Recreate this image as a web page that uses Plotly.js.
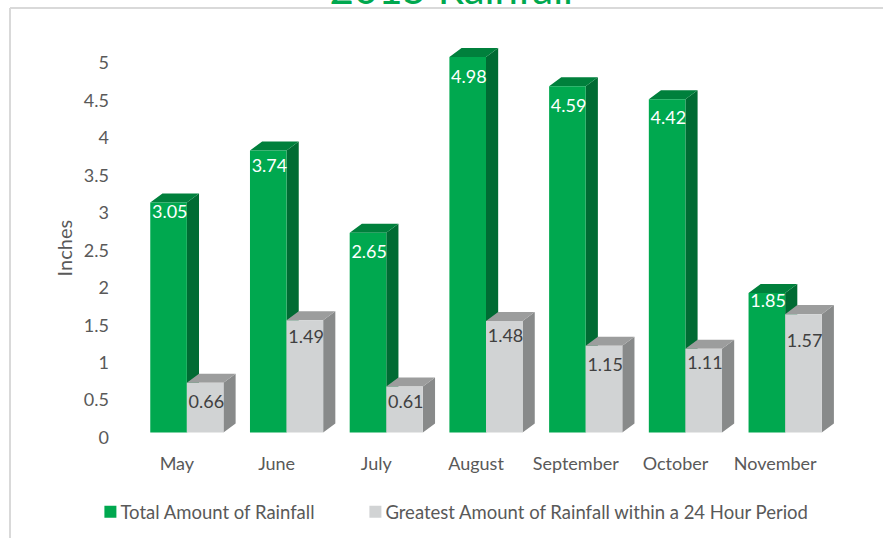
<!DOCTYPE html>
<html><head><meta charset="utf-8">
<script src="https://cdn.plot.ly/plotly-3.0.1.min.js"></script>
<style>html,body{margin:0;padding:0;background:#fff}#c{width:883px;height:538px}</style>
</head><body><div id="c"></div>
<script>
const months = ['May','June','July','August','September','October','November'];
const totalRain = [3.05,3.74,2.65,4.98,4.59,4.42,1.85];
const maxDayRain = [0.66,1.49,0.61,1.48,1.15,1.11,1.57];
const yTicks = [0,0.5,1,1.5,2,2.5,3,3.5,4,4.5,5];
const seriesNames = ['Total Amount of Rainfall','Greatest Amount of Rainfall within a 24 Hour Period'];
// label drop below bar top (in axis units), a placement choice
const totalDrop = [0.15,0.23,0.27,0.29,0.28,0.27,0.12];
const maxDrop = [0.27,0.24,0.23,0.22,0.27,0.21,0.38];

const FONT = 'Lato, "Open Sans", sans-serif';
const TXT = '#595959';
const barW = 0.367, depthX = 0.122, depthY = 0.12, labelNudge = 0.012;
const xs = months.map((_, i) => i);

function sideFace(vals, x0) {
  const px = [], py = [];
  vals.forEach((v, i) => {
    const r = i + x0 + barW;
    px.push(r, r + depthX, r + depthX, r, r, null);
    py.push(0, depthY, v + depthY, v, 0, null);
  });
  return [px, py];
}
function topFace(vals, x0) {
  const px = [], py = [];
  vals.forEach((v, i) => {
    const l = i + x0, r = l + barW;
    px.push(l, r, r + depthX, l + depthX, l, null);
    py.push(v, v, v + depthY, v + depthY, v, null);
  });
  return [px, py];
}
function poly(pts, color) {
  return {x: pts[0], y: pts[1], type: 'scatter', mode: 'lines', fill: 'toself', fillcolor: color,
    line: {width: 0, color: color}, showlegend: false, hoverinfo: 'skip', xaxis: 'x', yaxis: 'y'};
}
function bar(name, vals, color, legendId) {
  return {x: xs, y: vals, name: name, type: 'bar', marker: {color: color, line: {width: 0}},
    xaxis: 'x2', yaxis: 'y2', legend: legendId};
}
function labels(vals, drop, x0, color) {
  return {x: xs.map(i => i + x0), y: vals.map((v, i) => v - drop[i]), text: vals.map(v => v.toFixed(2)),
    type: 'scatter', mode: 'text', textposition: 'middle center',
    textfont: {family: FONT, size: 18, color: color}, showlegend: false, hoverinfo: 'skip',
    xaxis: 'x2', yaxis: 'y2'};
}
const data = [
  poly(sideFace(totalRain, -barW), '#006B33'),
  poly(topFace(totalRain, -barW), '#00803C'),
  poly(sideFace(maxDayRain, 0), '#888A8A'),
  poly(topFace(maxDayRain, 0), '#9C9D9D'),
  bar(seriesNames[0], totalRain, '#00A84F', 'legend'),
  bar(seriesNames[1], maxDayRain, '#D1D3D4', 'legend2'),
  labels(totalRain, totalDrop, -barW / 2 + labelNudge, '#FFFFFF'),
  labels(maxDayRain, maxDrop, barW / 2 + labelNudge, '#404040')
];
const yr = [-0.085, 5.629], xr = [-0.5, 6.5];
const legendFont = {family: FONT, size: 18.5, color: TXT};
const frameX = -127 / 698;
const frameLine = {color: '#D9D9D9', width: 2};
const layout = {
  width: 883, height: 538, paper_bgcolor: '#fff', plot_bgcolor: 'rgba(0,0,0,0)',
  margin: {l: 136.6, r: 48.4, t: 8, b: 98, pad: 0},
  barmode: 'group', bargap: 0.266, bargroupgap: 0,
  title: {text: '2015 Rainfall', font: {family: FONT, size: 42, color: '#00A84F'},
    x: 0.511, xanchor: 'center', y: 0.992, yanchor: 'bottom'},
  xaxis: {range: xr, tickmode: 'array', tickvals: xs.map(i => i - 0.1), ticktext: months,
    showgrid: false, zeroline: false, showline: false, ticks: '', ticklabelstandoff: 12,
    tickfont: {family: FONT, size: 18, color: TXT}},
  yaxis: {range: yr, tickmode: 'array', tickvals: yTicks.map(t => t * 75 / 75.5 - 5 / 75.5), ticktext: yTicks.map(String),
    showgrid: false, zeroline: false, showline: false, ticks: '', ticklabelstandoff: 27,
    tickfont: {family: FONT, size: 18, color: TXT}},
  xaxis2: {range: xr, overlaying: 'x', visible: false, anchor: 'y2'},
  yaxis2: {range: yr, overlaying: 'y', visible: false, anchor: 'x2'},
  showlegend: true,
  legend: {orientation: 'h', x: -56.6 / 698, xanchor: 'left', y: -0.167, yanchor: 'middle', font: legendFont},
  legend2: {orientation: 'h', x: 208.4 / 698, xanchor: 'left', y: -0.167, yanchor: 'middle', font: legendFont},
  annotations: [{text: 'Inches', textangle: -90, xref: 'paper', yref: 'paper', x: -73 / 698, y: 1 - 241 / 432,
    xanchor: 'center', yanchor: 'middle', showarrow: false, font: {family: FONT, size: 20, color: TXT}}],
  shapes: [
    {type: 'line', xref: 'paper', yref: 'paper', x0: frameX, x1: 1.1, y0: 1, y1: 1, line: frameLine, layer: 'below'},
    {type: 'line', xref: 'paper', yref: 'paper', x0: frameX, x1: frameX, y0: -0.3, y1: 1, line: frameLine, layer: 'below'}
  ]
};
Plotly.newPlot('c', data, layout, {displayModeBar: false, responsive: false}).then(() => {
  // tighten the swatch-to-text gap of the native legends
  document.querySelectorAll('.legendsymbols').forEach(g => g.setAttribute('transform', 'translate(10,0)'));
});
</script></body></html>
